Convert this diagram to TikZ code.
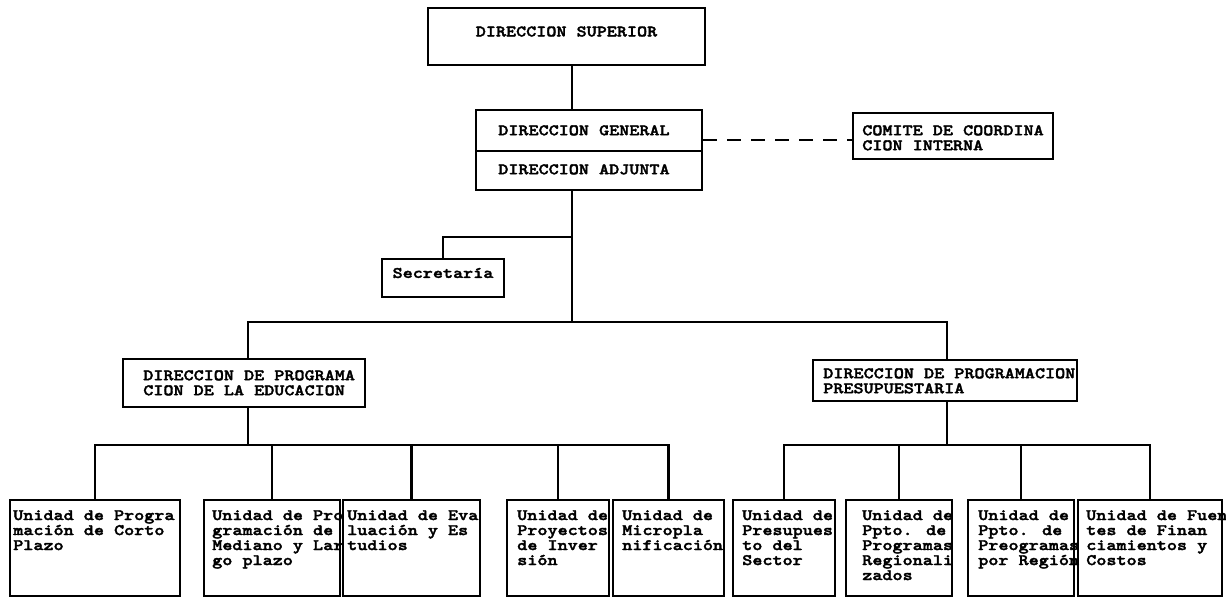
\documentclass[tikz,border=0pt]{standalone}
\usepackage{fontspec}
\usetikzlibrary{fit}
% heavy typewriter face, widened to the pitch of the typed chart
\newfontfamily\typewriter[Extension=.otf, FakeStretch=1.2, FakeBold=2.2]{lmmonolt10-bold}
\tikzset{
  tw/.style={font=\typewriter\fontsize{12pt}{11.25pt}\selectfont},
  box/.style={draw, line width=2pt, inner sep=0pt, fill=white, tw},
  txt/.style={anchor=north west, inner sep=0pt, align=left, tw},
  wire/.style={line width=1.7pt, line join=miter},
  link/.style={line width=1.5pt, dash pattern=on 10pt off 8pt},
}
\begin{document}
\begin{tikzpicture}[x=0.75pt, y=-0.75pt]
\useasboundingbox (0,0) rectangle (1226,598);

% --- top management -------------------------------------------------
\node[box, fit={(428,8)(705,65)}] (sup) {DIRECCION SUPERIOR};
\node[box, fit={(476,110)(702,151)}] (gen) {};
\node[box, fit={(476,151)(702,190)}] (adj) {};
\node[txt] (gent) at (498,125) {DIRECCION GENERAL};
\node[txt] (adjt) at (498,164) {DIRECCION ADJUNTA};

\node[box, fit={(853,113)(1053,159)}] (com) {};
\node[txt] (comt) at (862,125) {COMITE DE COORDINA\\CION INTERNA};

\node[box, fit={(382,259)(504,297)}] (sec) {Secretaría};

% --- directorates ---------------------------------------------------
\node[box, fit={(123,359)(365,407)}] (dpe) {};
\node[txt] (dpet) at (143,370) {DIRECCION DE PROGRAMA\\CION DE LA EDUCACION};
\node[box, fit={(813,360)(1077,401)}] (dpp) {};
\node[txt] (dppt) at (823,368) {DIRECCION DE PROGRAMACION\\PRESUPUESTARIA};

% --- units ----------------------------------------------------------
\node[box, fit={(10,500)(180,596)}]    (u1) {};
\node[box, fit={(204,500)(340,596)}]   (u2) {};
\node[box, fit={(343,500)(480,596)}]   (u3) {};
\node[box, fit={(507,500)(609,596)}]   (u4) {};
\node[box, fit={(613,500)(724,596)}]   (u5) {};
\node[box, fit={(733,500)(835,596)}]   (u6) {};
\node[box, fit={(846,500)(952,596)}]   (u7) {};
\node[box, fit={(968,500)(1074,596)}]  (u8) {};
\node[box, fit={(1078,500)(1222,596)}] (u9) {};

\node[txt] (u1t) at (13,510)   {Unidad de Progra\\mación de Corto\\Plazo};
\node[txt] (u2t) at (212,510)  {Unidad de Pro\\gramación de\\Mediano y Lar\\go plazo};
\node[txt] (u3t) at (347,510)  {Unidad de Eva\\luación y Es\\tudios};
\node[txt] (u4t) at (517,510)  {Unidad de\\Proyectos\\de Inver\\sión};
\node[txt] (u5t) at (622,510)  {Unidad de\\Micropla\\nificación};
\node[txt] (u6t) at (742,510)  {Unidad de\\Presupues\\to del\\Sector};
\node[txt] (u7t) at (862,510)  {Unidad de\\Ppto. de\\Programas\\Regionali\\zados};
\node[txt] (u8t) at (978,510)  {Unidad de\\Ppto. de\\Preogramas\\por Región};
\node[txt] (u9t) at (1086,510) {Unidad de Fuen\\tes de Finan\\ciamientos y\\Costos};

% --- junction points --------------------------------------------------
\coordinate (jsec)  at (572,237);
\coordinate (jmain) at (572,322);
\coordinate (jdpe)  at (248,445);
\coordinate (jdpp)  at (947,445);
\coordinate (dsh)   at (702,140);

% --- connectors -------------------------------------------------------
\draw[wire] (sup.south -| jsec) -- (gen.north -| jsec);
\draw[wire] (adj.south -| jmain) -- (jmain);
\draw[wire] (jsec) -| (sec.north);
\draw[wire] (dpe.north -| jdpe) |- (jmain) -| (dpp.north -| jdpp);
\draw[link] (gen.east |- dsh) -- (com.west |- dsh);

\draw[wire] (dpe.south -| jdpe) -- (jdpe);
\draw[wire] (u1.north) |- (jdpe) -| (u5.north);
\foreach \n in {u2,u3,u4} \draw[wire] (\n.north) -- (\n.north |- jdpe);

\draw[wire] (dpp.south -| jdpp) -- (jdpp);
\draw[wire] (u6.north) |- (jdpp) -| (u9.north);
\foreach \n in {u7,u8} \draw[wire] (\n.north) -- (\n.north |- jdpp);
\end{tikzpicture}
\end{document}
